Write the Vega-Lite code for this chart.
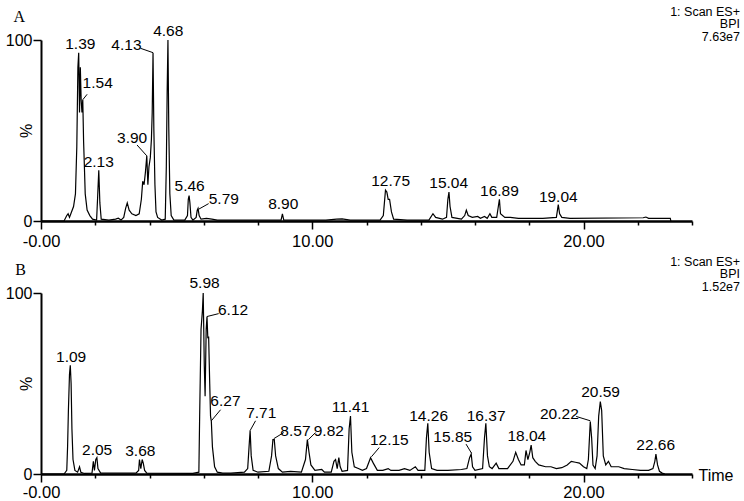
{
  "$schema": "https://vega.github.io/schema/vega-lite/v6.json",
  "background": "white",
  "padding": {"left": 5, "top": 5, "right": 5, "bottom": 0},
  "bounds": "flush",
  "spacing": 72,
  "config": {
    "view": {"stroke": null},
    "font": "Liberation Sans",
    "axis": {"grid": false, "domainColor": "black", "tickColor": "black", "labelColor": "black", "titleColor": "black", "labelFont": "Liberation Sans", "titleFont": "Liberation Sans", "titleFontWeight": "normal"}
  },
  "datasets": {
    "traceA": [
      {"t":0,"y":0},{"t":0.85,"y":0},{"t":0.95,"y":3},{"t":1.0,"y":4},{"t":1.05,"y":2},{"t":1.1,"y":4},{"t":1.2,"y":8},{"t":1.27,"y":15},{"t":1.32,"y":41},{"t":1.36,"y":85},{"t":1.39,"y":93},{"t":1.42,"y":60},{"t":1.45,"y":85},{"t":1.48,"y":67},{"t":1.51,"y":60},{"t":1.54,"y":67},{"t":1.57,"y":44},{"t":1.6,"y":30},{"t":1.63,"y":15},{"t":1.7,"y":6},{"t":1.8,"y":3},{"t":1.9,"y":1},{"t":2.05,"y":0.5},{"t":2.09,"y":14},{"t":2.13,"y":28},{"t":2.17,"y":10},{"t":2.22,"y":1},{"t":2.5,"y":0.5},{"t":2.75,"y":1},{"t":2.85,"y":1.5},{"t":2.95,"y":0.5},{"t":3.05,"y":2},{"t":3.12,"y":7},{"t":3.18,"y":10},{"t":3.25,"y":6},{"t":3.35,"y":4},{"t":3.5,"y":3},{"t":3.62,"y":4},{"t":3.7,"y":12},{"t":3.75,"y":22},{"t":3.8,"y":20},{"t":3.85,"y":27},{"t":3.9,"y":36},{"t":3.94,"y":20},{"t":3.98,"y":30},{"t":4.03,"y":35},{"t":4.07,"y":45},{"t":4.1,"y":60},{"t":4.13,"y":93},{"t":4.16,"y":51},{"t":4.2,"y":20},{"t":4.24,"y":5},{"t":4.3,"y":2},{"t":4.45,"y":0.5},{"t":4.58,"y":1},{"t":4.62,"y":30},{"t":4.65,"y":70},{"t":4.68,"y":100},{"t":4.71,"y":52},{"t":4.75,"y":15},{"t":4.8,"y":3},{"t":4.9,"y":0.5},{"t":5.3,"y":0.5},{"t":5.4,"y":3},{"t":5.43,"y":12},{"t":5.46,"y":14},{"t":5.49,"y":10},{"t":5.53,"y":2},{"t":5.6,"y":0.5},{"t":5.72,"y":2},{"t":5.76,"y":6},{"t":5.79,"y":7},{"t":5.83,"y":3},{"t":5.9,"y":1},{"t":6.1,"y":1.5},{"t":6.3,"y":1},{"t":6.5,"y":0.5},{"t":8.85,"y":0.5},{"t":8.9,"y":4},{"t":8.95,"y":0.5},{"t":10.5,"y":0.5},{"t":10.9,"y":1},{"t":11.1,"y":1.2},{"t":11.4,"y":0.5},{"t":12.5,"y":0.5},{"t":12.62,"y":3},{"t":12.7,"y":17},{"t":12.75,"y":16},{"t":12.8,"y":12},{"t":12.85,"y":12},{"t":12.92,"y":5},{"t":13.0,"y":1},{"t":13.5,"y":0.5},{"t":14.3,"y":0.5},{"t":14.45,"y":4},{"t":14.55,"y":2},{"t":14.8,"y":1},{"t":14.95,"y":2},{"t":15.0,"y":12},{"t":15.04,"y":16},{"t":15.08,"y":8},{"t":15.15,"y":2},{"t":15.5,"y":1},{"t":15.62,"y":3},{"t":15.68,"y":6},{"t":15.75,"y":3},{"t":15.9,"y":2},{"t":16.1,"y":2.5},{"t":16.2,"y":1.5},{"t":16.35,"y":2.5},{"t":16.45,"y":1.5},{"t":16.55,"y":4},{"t":16.62,"y":2},{"t":16.8,"y":2},{"t":16.86,"y":8},{"t":16.9,"y":12},{"t":16.94,"y":4},{"t":17.1,"y":2},{"t":17.3,"y":2},{"t":17.6,"y":1.5},{"t":18.5,"y":1.5},{"t":19.0,"y":2},{"t":19.04,"y":6},{"t":19.07,"y":9},{"t":19.12,"y":4},{"t":19.2,"y":2},{"t":19.5,"y":1.5},{"t":22.2,"y":1.8},{"t":22.3,"y":2.2},{"t":22.4,"y":1.5},{"t":23.2,"y":1.5},{"t":23.22,"y":0}
    ],
    "traceB": [
      {"t":0,"y":0},{"t":0.85,"y":0},{"t":0.95,"y":2},{"t":0.98,"y":15},{"t":1.01,"y":35},{"t":1.05,"y":55},{"t":1.08,"y":60},{"t":1.11,"y":50},{"t":1.14,"y":25},{"t":1.18,"y":8},{"t":1.25,"y":2},{"t":1.35,"y":1},{"t":1.42,"y":4},{"t":1.47,"y":1},{"t":1.6,"y":0.3},{"t":1.88,"y":0.5},{"t":1.93,"y":7},{"t":1.97,"y":2},{"t":2.02,"y":8},{"t":2.06,"y":9},{"t":2.1,"y":3},{"t":2.2,"y":0.5},{"t":3.5,"y":0.5},{"t":3.6,"y":2},{"t":3.63,"y":8},{"t":3.68,"y":3},{"t":3.73,"y":8},{"t":3.77,"y":6},{"t":3.82,"y":2},{"t":3.9,"y":0.5},{"t":5.6,"y":0.3},{"t":5.82,"y":1},{"t":5.85,"y":33},{"t":5.9,"y":80},{"t":5.95,"y":90},{"t":5.98,"y":100},{"t":6.02,"y":60},{"t":6.05,"y":43},{"t":6.09,"y":80},{"t":6.12,"y":87},{"t":6.15,"y":75},{"t":6.18,"y":76},{"t":6.22,"y":50},{"t":6.25,"y":32},{"t":6.28,"y":29},{"t":6.32,"y":15},{"t":6.4,"y":4},{"t":6.5,"y":1},{"t":6.7,"y":0.5},{"t":7.0,"y":0.5},{"t":7.5,"y":1},{"t":7.62,"y":3},{"t":7.67,"y":15},{"t":7.71,"y":24},{"t":7.75,"y":10},{"t":7.82,"y":2},{"t":8.0,"y":1},{"t":8.4,"y":1.5},{"t":8.5,"y":10},{"t":8.55,"y":19},{"t":8.6,"y":19},{"t":8.65,"y":10},{"t":8.75,"y":3},{"t":8.9,"y":1},{"t":9.2,"y":1.5},{"t":9.6,"y":1},{"t":9.75,"y":8},{"t":9.82,"y":19},{"t":9.88,"y":12},{"t":9.95,"y":5},{"t":10.1,"y":2},{"t":10.35,"y":2.5},{"t":10.45,"y":1},{"t":10.7,"y":1},{"t":10.8,"y":7},{"t":10.86,"y":8},{"t":10.92,"y":3},{"t":10.98,"y":9},{"t":11.03,"y":4},{"t":11.1,"y":1.5},{"t":11.3,"y":2},{"t":11.36,"y":25},{"t":11.41,"y":32},{"t":11.46,"y":12},{"t":11.55,"y":4},{"t":11.7,"y":3},{"t":11.85,"y":2},{"t":12.0,"y":3},{"t":12.15,"y":9},{"t":12.25,"y":6},{"t":12.4,"y":2},{"t":12.6,"y":2},{"t":12.8,"y":3},{"t":12.9,"y":2},{"t":13.2,"y":2},{"t":13.4,"y":3},{"t":13.6,"y":2},{"t":13.8,"y":4},{"t":13.9,"y":2},{"t":14.15,"y":2},{"t":14.21,"y":20},{"t":14.26,"y":28},{"t":14.31,"y":12},{"t":14.4,"y":3},{"t":14.6,"y":2},{"t":15.0,"y":2},{"t":15.5,"y":2.5},{"t":15.7,"y":3},{"t":15.8,"y":9},{"t":15.86,"y":11},{"t":15.91,"y":4},{"t":16.0,"y":2},{"t":16.28,"y":3},{"t":16.35,"y":20},{"t":16.4,"y":28},{"t":16.46,"y":10},{"t":16.53,"y":4},{"t":16.63,"y":3},{"t":16.78,"y":6},{"t":16.88,"y":3},{"t":17.2,"y":3},{"t":17.4,"y":7},{"t":17.5,"y":12},{"t":17.6,"y":8},{"t":17.7,"y":5},{"t":17.82,"y":5},{"t":17.88,"y":13},{"t":17.95,"y":8},{"t":18.02,"y":12},{"t":18.07,"y":16},{"t":18.13,"y":9},{"t":18.22,"y":7},{"t":18.35,"y":5},{"t":18.6,"y":4},{"t":18.8,"y":4},{"t":19.0,"y":3},{"t":19.2,"y":3.5},{"t":19.4,"y":5},{"t":19.55,"y":7},{"t":19.7,"y":6.5},{"t":19.85,"y":6},{"t":20.0,"y":4},{"t":20.12,"y":3},{"t":20.18,"y":8},{"t":20.25,"y":29},{"t":20.3,"y":20},{"t":20.35,"y":5},{"t":20.43,"y":3},{"t":20.5,"y":10},{"t":20.56,"y":32},{"t":20.62,"y":40},{"t":20.67,"y":35},{"t":20.73,"y":10},{"t":20.82,"y":5},{"t":20.92,"y":7},{"t":21.02,"y":4},{"t":21.3,"y":4},{"t":21.5,"y":3},{"t":21.8,"y":2.5},{"t":22.1,"y":2},{"t":22.4,"y":2},{"t":22.56,"y":3},{"t":22.63,"y":7},{"t":22.67,"y":11},{"t":22.73,"y":5},{"t":22.8,"y":1.5},{"t":22.9,"y":0.5},{"t":23.0,"y":0}
    ],
    "labels": [
      {"p":"A","t":1.45,"y":97.6,"s":"1.39"},{"p":"A","t":2.09,"y":76.4,"s":"1.54"},{"p":"A","t":2.13,"y":32.8,"s":"2.13"},{"p":"A","t":3.36,"y":45.7,"s":"3.90"},{"p":"A","t":3.15,"y":97,"s":"4.13"},{"p":"A","t":4.69,"y":105,"s":"4.68"},{"p":"A","t":5.48,"y":19.3,"s":"5.46"},{"p":"A","t":6.74,"y":12,"s":"5.79"},{"p":"A","t":8.93,"y":9.2,"s":"8.90"},{"p":"A","t":12.89,"y":22,"s":"12.75"},{"p":"A","t":15.03,"y":21,"s":"15.04"},{"p":"A","t":16.9,"y":16.6,"s":"16.89"},{"p":"A","t":19.07,"y":13.3,"s":"19.04"},
      {"p":"B","t":1.11,"y":64.5,"s":"1.09"},{"p":"B","t":2.07,"y":13.1,"s":"2.05"},{"p":"B","t":3.66,"y":12.8,"s":"3.68"},{"p":"B","t":6.03,"y":105.5,"s":"5.98"},{"p":"B","t":7.08,"y":90.8,"s":"6.12"},{"p":"B","t":6.8,"y":40.5,"s":"6.27"},{"p":"B","t":8.12,"y":33.5,"s":"7.71"},{"p":"B","t":9.38,"y":23.8,"s":"8.57"},{"p":"B","t":10.61,"y":23.8,"s":"9.82"},{"p":"B","t":11.41,"y":36.8,"s":"11.41"},{"p":"B","t":12.84,"y":18.7,"s":"12.15"},{"p":"B","t":14.29,"y":32.2,"s":"14.26"},{"p":"B","t":15.18,"y":20.5,"s":"15.85"},{"p":"B","t":16.41,"y":32.2,"s":"16.37"},{"p":"B","t":17.91,"y":21.1,"s":"18.04"},{"p":"B","t":19.11,"y":33.1,"s":"20.22"},{"p":"B","t":20.63,"y":45.1,"s":"20.59"},{"p":"B","t":22.66,"y":15.9,"s":"22.66"}
    ],
    "leaders": [
      {"p":"A","t1":1.70,"y1":70,"t2":1.54,"y2":67},
      {"p":"A","t1":3.67,"y1":95.4,"t2":4.13,"y2":93},
      {"p":"A","t1":3.54,"y1":42,"t2":3.9,"y2":36},
      {"p":"A","t1":6.18,"y1":9.6,"t2":5.81,"y2":6.5},
      {"p":"B","t1":6.55,"y1":88.6,"t2":6.12,"y2":87},
      {"p":"B","t1":6.62,"y1":35.5,"t2":6.28,"y2":29.4},
      {"p":"B","t1":7.91,"y1":29.4,"t2":7.71,"y2":24},
      {"p":"B","t1":8.95,"y1":22.9,"t2":8.58,"y2":19.5},
      {"p":"B","t1":10.12,"y1":22.9,"t2":9.86,"y2":19},
      {"p":"B","t1":12.47,"y1":14.6,"t2":12.18,"y2":9.5},
      {"p":"B","t1":15.67,"y1":16.5,"t2":15.87,"y2":11.5},
      {"p":"B","t1":19.73,"y1":31.8,"t2":20.25,"y2":29.4}
    ],
    "headers": [
      {"p":"A","t":25.77,"y":115.5,"s":"1: Scan ES+"},{"p":"A","t":25.77,"y":108.6,"s":"BPI"},{"p":"A","t":25.77,"y":101.7,"s":"7.63e7"},
      {"p":"B","t":25.77,"y":117.3,"s":"1: Scan ES+"},{"p":"B","t":25.77,"y":110.4,"s":"BPI"},{"p":"B","t":25.77,"y":103.5,"s":"1.52e7"}
    ],
    "panels": [
      {"p":"A","t":-0.8,"y":112.7},{"p":"B","t":-0.75,"y":112.6}
    ]
  },
  "vconcat": [
    {
      "width": 651,
      "height": 181,
      "layer": [
        {
          "data": {"name": "traceA"},
          "mark": {"type": "line", "color": "black", "strokeWidth": 1.2, "clip": false},
          "encoding": {
            "x": {"field": "t", "type": "quantitative", "scale": {"domain": [0, 24], "nice": false, "zero": false},
              "axis": {"title": null, "values": [0,0.5,1,1.5,2,2.5,3,3.5,4,4.5,5,5.5,6,6.5,7,7.5,8,8.5,9,9.5,10,10.5,11,11.5,12,12.5,13,13.5,14,14.5,15,15.5,16,16.5,17,17.5,18,18.5,19,19.5,20,20.5,21,21.5,22,22.5,23,23.5,24],
                "tickSize": {"condition": {"test": "datum.value % 2.5 === 0", "value": 8}, "value": 4},
                "tickWidth": 1.5, "domainWidth": 2.5, "labelFontSize": 16.5, "labelPadding": 4, "labelOverlap": false, "labelFlush": false,
                "labelExpr": "datum.value % 5 === 0 ? (datum.value === 0 ? '-0.00' : format(datum.value, '.2f')) : ''"}},
            "y": {"field": "y", "type": "quantitative", "scale": {"domain": [0, 100], "nice": false},
              "axis": {"title": "%", "titleX": -15, "titleY": 90.5, "titleAlign": "center", "titleBaseline": "middle", "titleFontSize": 16,
                "values": [0, 100], "tickSize": 8, "tickWidth": 1.5, "domainWidth": 2, "labelFontSize": 16, "labelPadding": 1}}
          }
        },
        {
          "data": {"name": "leaders"},
          "transform": [{"filter": "datum.p === 'A'"}],
          "mark": {"type": "rule", "color": "black", "strokeWidth": 1},
          "encoding": {"x": {"field": "t1", "type": "quantitative"}, "y": {"field": "y1", "type": "quantitative"}, "x2": {"field": "t2"}, "y2": {"field": "y2"}}
        },
        {
          "data": {"name": "labels"},
          "transform": [{"filter": "datum.p === 'A'"}],
          "mark": {"type": "text", "fontSize": 15.5, "font": "Liberation Sans", "color": "black", "baseline": "middle", "align": "center"},
          "encoding": {"x": {"field": "t", "type": "quantitative"}, "y": {"field": "y", "type": "quantitative"}, "text": {"field": "s"}}
        },
        {
          "data": {"name": "headers"},
          "transform": [{"filter": "datum.p === 'A'"}],
          "mark": {"type": "text", "fontSize": 12.5, "font": "Liberation Sans", "color": "black", "baseline": "middle", "align": "right"},
          "encoding": {"x": {"field": "t", "type": "quantitative"}, "y": {"field": "y", "type": "quantitative"}, "text": {"field": "s"}}
        },
        {
          "data": {"name": "panels"},
          "transform": [{"filter": "datum.p === 'A'"}],
          "mark": {"type": "text", "fontSize": 16, "font": "Liberation Serif", "color": "black", "baseline": "middle", "align": "center"},
          "encoding": {"x": {"field": "t", "type": "quantitative"}, "y": {"field": "y", "type": "quantitative"}, "text": {"field": "p"}}
        }
      ]
    },
    {
      "width": 651,
      "height": 181,
      "layer": [
        {
          "data": {"name": "traceB"},
          "mark": {"type": "line", "color": "black", "strokeWidth": 1.2, "clip": false},
          "encoding": {
            "x": {"field": "t", "type": "quantitative", "scale": {"domain": [0, 24], "nice": false, "zero": false},
              "axis": {"title": "Time", "titleX": 657, "titleY": 1, "titleAlign": "left", "titleBaseline": "middle", "titleAngle": 0, "titleFontSize": 16,
                "values": [0,0.5,1,1.5,2,2.5,3,3.5,4,4.5,5,5.5,6,6.5,7,7.5,8,8.5,9,9.5,10,10.5,11,11.5,12,12.5,13,13.5,14,14.5,15,15.5,16,16.5,17,17.5,18,18.5,19,19.5,20,20.5,21,21.5,22,22.5,23,23.5,24],
                "tickSize": {"condition": {"test": "datum.value % 2.5 === 0", "value": 8}, "value": 4},
                "tickWidth": 1.5, "domainWidth": 2.5, "labelFontSize": 16.5, "labelPadding": 2, "labelOverlap": false, "labelFlush": false,
                "labelExpr": "datum.value % 5 === 0 ? (datum.value === 0 ? '-0.00' : format(datum.value, '.2f')) : ''"}},
            "y": {"field": "y", "type": "quantitative", "scale": {"domain": [0, 100], "nice": false},
              "axis": {"title": "%", "titleX": -15, "titleY": 90.5, "titleAlign": "center", "titleBaseline": "middle", "titleFontSize": 16,
                "values": [0, 100], "tickSize": 8, "tickWidth": 1.5, "domainWidth": 2, "labelFontSize": 16, "labelPadding": 1}}
          }
        },
        {
          "data": {"name": "leaders"},
          "transform": [{"filter": "datum.p === 'B'"}],
          "mark": {"type": "rule", "color": "black", "strokeWidth": 1},
          "encoding": {"x": {"field": "t1", "type": "quantitative"}, "y": {"field": "y1", "type": "quantitative"}, "x2": {"field": "t2"}, "y2": {"field": "y2"}}
        },
        {
          "data": {"name": "labels"},
          "transform": [{"filter": "datum.p === 'B'"}],
          "mark": {"type": "text", "fontSize": 15.5, "font": "Liberation Sans", "color": "black", "baseline": "middle", "align": "center"},
          "encoding": {"x": {"field": "t", "type": "quantitative"}, "y": {"field": "y", "type": "quantitative"}, "text": {"field": "s"}}
        },
        {
          "data": {"name": "headers"},
          "transform": [{"filter": "datum.p === 'B'"}],
          "mark": {"type": "text", "fontSize": 12.5, "font": "Liberation Sans", "color": "black", "baseline": "middle", "align": "right"},
          "encoding": {"x": {"field": "t", "type": "quantitative"}, "y": {"field": "y", "type": "quantitative"}, "text": {"field": "s"}}
        },
        {
          "data": {"name": "panels"},
          "transform": [{"filter": "datum.p === 'B'"}],
          "mark": {"type": "text", "fontSize": 16, "font": "Liberation Serif", "color": "black", "baseline": "middle", "align": "center"},
          "encoding": {"x": {"field": "t", "type": "quantitative"}, "y": {"field": "y", "type": "quantitative"}, "text": {"field": "p"}}
        }
      ]
    }
  ]
}
